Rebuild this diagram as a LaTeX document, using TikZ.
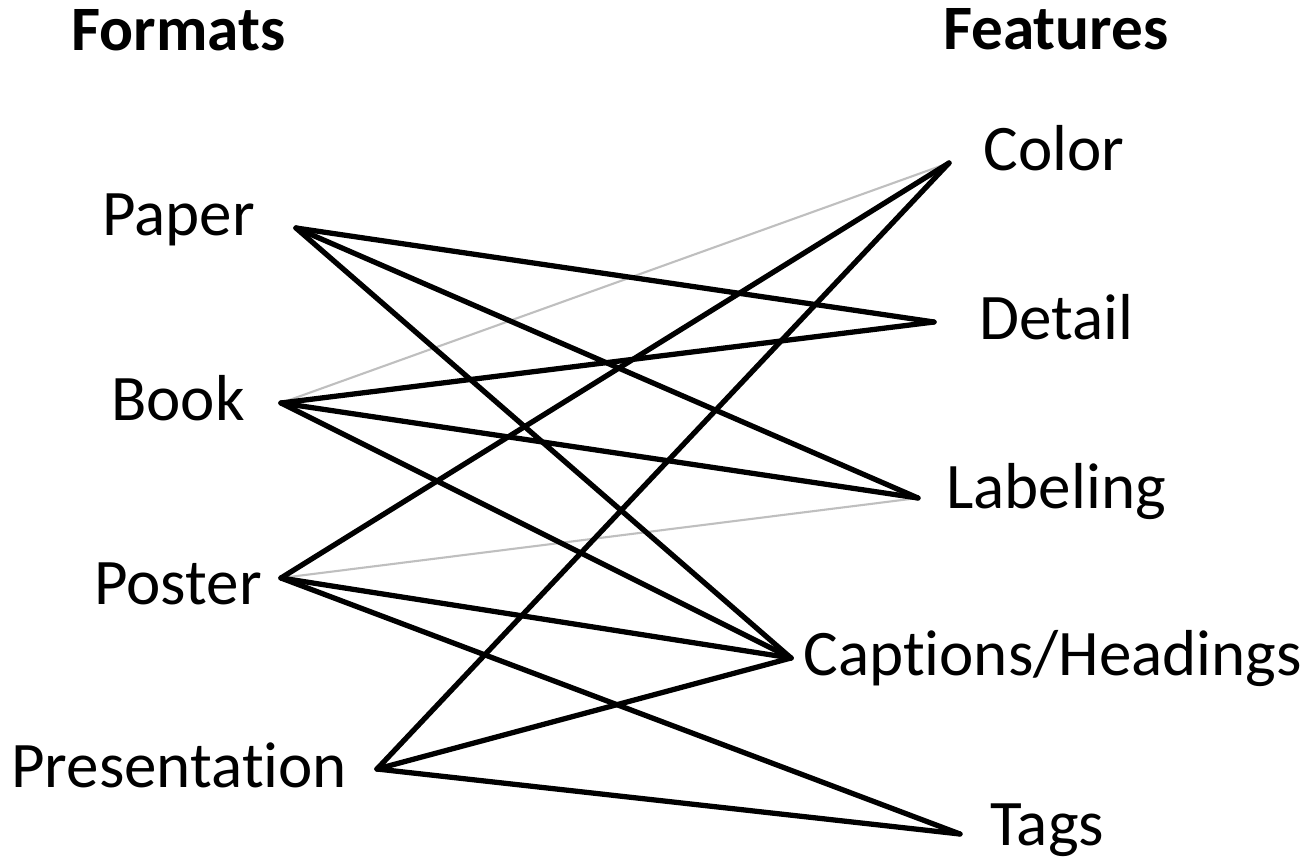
\documentclass[tikz,border=0pt]{standalone}
\usepackage{fontspec}
\setmainfont{Carlito}[Ligatures=NoCommon]
\usetikzlibrary{positioning}

\tikzset{
  lbl/.style={anchor=base west,inner sep=0pt,font=\fontsize{37}{44}\selectfont},
  head/.style={anchor=base west,inner sep=0pt,font=\fontsize{36}{43}\selectfont\bfseries},
  link/.style={line width=3pt,line cap=round,line join=miter},
  weak/.style={line width=1.2pt,color=black!25}
}

\begin{document}
\begin{tikzpicture}[x=0.02cm,y=-0.02cm]

\useasboundingbox (0,0) rectangle (1309,859);

%%%%%%%%%%%%%%%%%%%%%%%%%%%%%%%%%%%%%%%%%%%%%%%%%%
% Headings
%%%%%%%%%%%%%%%%%%%%%%%%%%%%%%%%%%%%%%%%%%%%%%%%%%

\node[head] (formats) at (71,50) {Formats};
\node[head] (features) at (943,49) {Features};

%%%%%%%%%%%%%%%%%%%%%%%%%%%%%%%%%%%%%%%%%%%%%%%%%%
% Left column
%%%%%%%%%%%%%%%%%%%%%%%%%%%%%%%%%%%%%%%%%%%%%%%%%%

\node[lbl] (paperlbl) at (102,235) {Paper};
\node[lbl] (booklbl) at (111,420) {Book};
\node[lbl] (posterlbl) at (94,604) {Poster};
\node[lbl] (presentlbl) at (11,787) {Presentation};

% Line ends
\coordinate (paper) at (296,228);
\coordinate (book) at (281,403);
\coordinate (poster) at (281,578);
\coordinate (present) at (377,769);

%%%%%%%%%%%%%%%%%%%%%%%%%%%%%%%%%%%%%%%%%%%%%%%%%%
% Right column
%%%%%%%%%%%%%%%%%%%%%%%%%%%%%%%%%%%%%%%%%%%%%%%%%%

\node[lbl] (colorlbl) at (983,170) {Color};
\node[lbl] (detaillbl) at (979,339) {Detail};
\node[lbl] (labellbl) at (946,508) {Labeling};
\node[lbl] (captionlbl) at (803,675) {Captions/Headings};
\node[lbl] (tagslbl) at (990,845) {Tags};

% Line ends
\coordinate (color) at (949,163);
\coordinate (detail) at (934,322);
\coordinate (labeling) at (918,498);
\coordinate (caption) at (791,658);
\coordinate (tags) at (960,834);

%%%%%%%%%%%%%%%%%%%%%%%%%%%%%%%%%%%%%%%%%%%%%%%%%%
% Links
%%%%%%%%%%%%%%%%%%%%%%%%%%%%%%%%%%%%%%%%%%%%%%%%%%

% Weak links
\draw[weak] (book)--(color);
\draw[weak] (poster)--(labeling);

% Paper
\draw[link] (paper)--(detail);
\draw[link] (paper)--(labeling);
\draw[link] (paper)--(caption);

% Book
\draw[link] (book)--(detail);
\draw[link] (book)--(labeling);
\draw[link] (book)--(caption);

% Poster
\draw[link] (poster)--(color);
\draw[link] (poster)--(caption);
\draw[link] (poster)--(tags);

% Presentation
\draw[link] (present)--(color);
\draw[link] (present)--(caption);
\draw[link] (present)--(tags);

\end{tikzpicture}
\end{document}
